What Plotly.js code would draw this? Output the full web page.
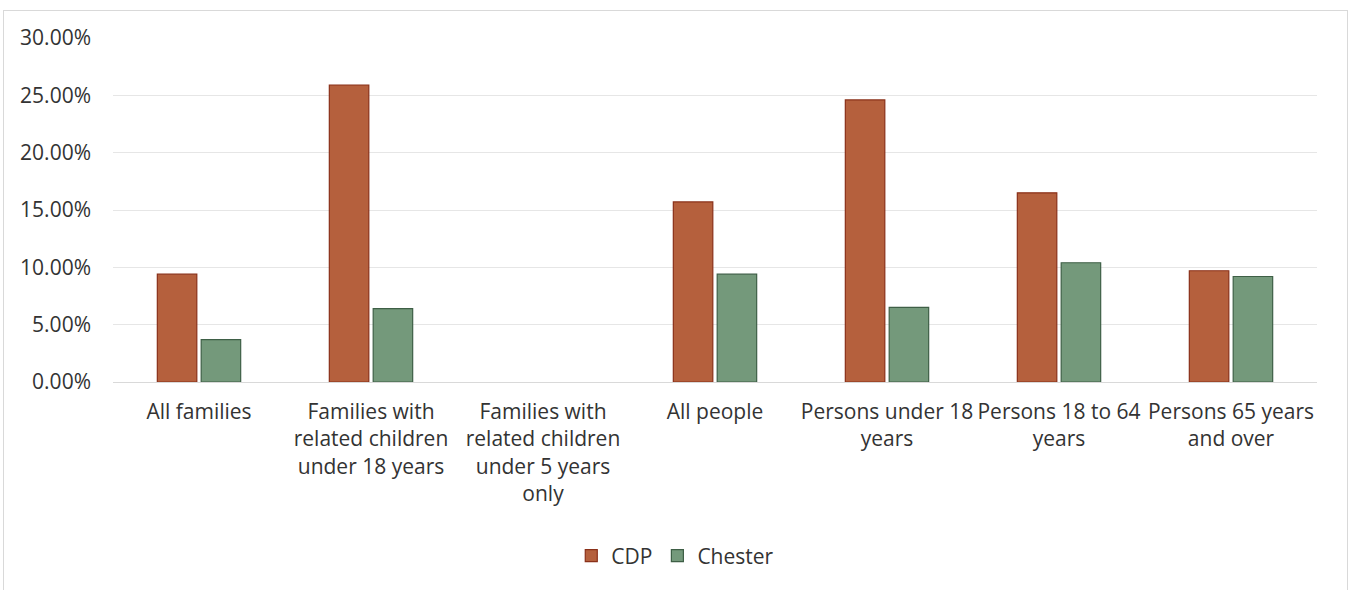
<!DOCTYPE html>
<html>
<head>
<meta charset="utf-8">
<script src="https://cdn.plot.ly/plotly-3.0.1.min.js"></script>
<style>
  html, body { margin: 0; padding: 0; background: #ffffff; }
  #chart { width: 1351px; height: 590px; }
  #frame { position: absolute; left: 3px; top: 10px; width: 1343px; height: 600px;
           border: 1px solid #d9d9d9; pointer-events: none; }
</style>
</head>
<body>
<div id="chart"></div>
<div id="frame"></div>
<script>
// Poverty rates by group
const categories = [
  'All families',
  'Families with<br>related children<br>under 18 years',
  'Families with<br>related children<br>under 5 years<br>only',
  'All people',
  'Persons under 18<br>years',
  'Persons 18 to 64<br>years',
  'Persons 65 years<br>and over'
];
const cdpValues     = [0.094, 0.259, 0, 0.157, 0.246, 0.165, 0.097];
const chesterValues = [0.037, 0.064, 0, 0.094, 0.065, 0.104, 0.092];
const yTicks = [0, 0.05, 0.10, 0.15, 0.20, 0.25, 0.30];

const font = { family: '"Open Sans", sans-serif', size: 21, color: '#333333' };

// no outline on empty bars
const outline = vals => vals.map(v => (v > 0 ? 1.2 : 0));

const traces = [
  {
    type: 'bar', name: 'CDP', x: categories, y: cdpValues,
    marker: { color: '#b5603d', line: { color: '#8a3019', width: outline(cdpValues) } },
    hoverinfo: 'skip'
  },
  {
    type: 'bar', name: 'Chester', x: categories, y: chesterValues,
    marker: { color: '#74997b', line: { color: '#3e5f46', width: outline(chesterValues) } },
    hoverinfo: 'skip'
  }
];

const layout = {
  width: 1351, height: 590,
  margin: { l: 113, r: 34, t: 38, b: 208 },
  paper_bgcolor: '#ffffff', plot_bgcolor: '#ffffff',
  font: font,
  barmode: 'group', bargap: 0.49, bargroupgap: 0.1,
  showlegend: true,
  legend: {
    orientation: 'h', x: 0.467, xanchor: 'center', y: -0.506, yanchor: 'middle',
    font: font, itemwidth: 30, traceorder: 'normal'
  },
  xaxis: {
    tickfont: font, showgrid: false, zeroline: false, showline: false,
    ticks: '', ticklabelstandoff: 15, tickangle: 0, automargin: false
  },
  yaxis: {
    range: [0, 0.30], tickvals: yTicks, tickformat: '.2%',
    tickfont: font, showgrid: true, gridcolor: '#e6e6e6', gridwidth: 1,
    zeroline: true, zerolinecolor: '#d9d9d9', zerolinewidth: 1,
    showline: false, ticks: '', ticklabelstandoff: 21, automargin: false
  }
};

Plotly.newPlot('chart', traces, layout, { displayModeBar: false, staticPlot: true });
</script>
</body>
</html>
